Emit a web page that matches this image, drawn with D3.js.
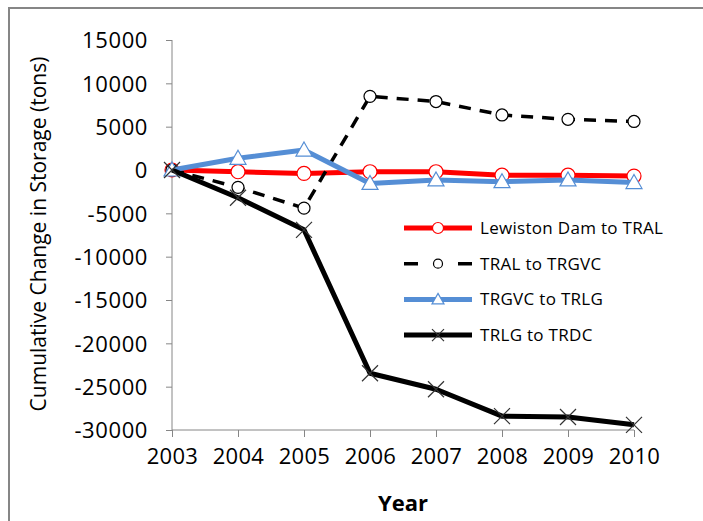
<!DOCTYPE html>
<html>
<head>
<meta charset="utf-8">
<script src="https://cdn.jsdelivr.net/npm/d3@7"></script>
<style>
  body { margin: 0; background: #fff; }
  svg text { font-family: "Open Sans", sans-serif; fill: #000; }
</style>
</head>
<body>
<script>
const WIDTH = 703;
const HEIGHT = 521;

var years = [2003, 2004, 2005, 2006, 2007, 2008, 2009, 2010];
var yTicks = [15000, 10000, 5000, 0, -5000, -10000, -15000, -20000, -25000, -30000];
var seriesNames = ['Lewiston Dam to TRAL', 'TRAL to TRGVC', 'TRGVC to TRLG', 'TRLG to TRDC'];
var lewistonToTral = [0, -200, -400, -200, -200, -600, -600, -700];
var tralToTrgvc = [0, -2000, -4400, 8500, 7900, 6350, 5850, 5600];
var trgvcToTrlg = [0, 1350, 2300, -1550, -1150, -1350, -1150, -1450];
var trlgToTrdc = [0, -3200, -6900, -23450, -25300, -28400, -28500, -29400];

var styles = [
	{color: '#ff0000', width: 5, dash: null, marker: 'circle', r: 7, lr: 5.5, mstroke: '#ff0000'},
	{color: '#000000', width: 3.5, dash: '12,9', marker: 'circle', r: 6, lr: 4.5, mstroke: '#000000'},
	{color: '#558ed5', width: 5, dash: null, marker: 'triangle', r: 8, lr: 6, mstroke: '#558ed5'},
	{color: '#000000', width: 5, dash: null, marker: 'x', r: 8, lr: 6, mstroke: '#333333'}
];

var drawMarker = function(g, st, x, y, s){
	if (st.marker == 'circle') {
		g.append('circle').attr('cx', x).attr('cy', y).attr('r', s)
			.attr('fill', '#fff').attr('stroke', st.mstroke).attr('stroke-width', 1.2);
	} else if (st.marker == 'triangle') {
		g.append('path')
			.attr('d', 'M' + x + ',' + (y - s) + 'L' + (x + s) + ',' + (y + s * 0.75) + 'L' + (x - s) + ',' + (y + s * 0.75) + 'Z')
			.attr('fill', '#fff').attr('stroke', st.mstroke).attr('stroke-width', 1.2);
	} else {
		g.append('path')
			.attr('d', 'M' + (x - s) + ',' + (y - s) + 'L' + (x + s) + ',' + (y + s) + 'M' + (x + s) + ',' + (y - s) + 'L' + (x - s) + ',' + (y + s))
			.attr('fill', 'none').attr('stroke', st.mstroke).attr('stroke-width', 1.2);
	}
};

var createChart = function(){
	var svg = d3.select('body').append('svg')
		.attr('width', WIDTH).attr('height', HEIGHT);

	// outer frame (right and bottom fall outside the picture)
	svg.append('rect').attr('x', 9).attr('y', 8).attr('width', 720).attr('height', 540)
		.attr('fill', 'none').attr('stroke', '#868686').attr('stroke-width', 2);

	var x = d3.scalePoint().domain(years).range([172, 634]);
	var y = d3.scaleLinear().domain([-30000, 15000]).range([430, 40]);

	var yAxis = d3.axisLeft(y).tickValues(yTicks).tickSize(6).tickPadding(18);
	var gy = svg.append('g').attr('transform', 'translate(172,0)').call(yAxis);
	gy.select('.domain').attr('stroke', '#868686').attr('d', 'M0,40V430');
	gy.selectAll('.tick line').attr('stroke', '#868686');
	gy.selectAll('.tick text').style('font-size', '22px').style('letter-spacing', '0.6px')
		.attr('dy', '0.35em').text(function(d){ return d; });

	var xAxis = d3.axisBottom(x).tickSize(7).tickPadding(11);
	var gx = svg.append('g').attr('transform', 'translate(0,430)').call(xAxis);
	gx.select('.domain').attr('stroke', '#868686').attr('d', 'M172,0H634');
	gx.selectAll('.tick line').attr('stroke', '#868686');
	gx.selectAll('.tick text').style('font-size', '22px').style('letter-spacing', '0.3px');

	svg.append('text').attr('x', 403).attr('y', 511).attr('text-anchor', 'middle')
		.style('font-size', '22px').style('font-weight', 'bold').text('Year');
	svg.append('text').attr('transform', 'translate(46,234) rotate(-90)').attr('text-anchor', 'middle')
		.style('font-size', '21px').text('Cumulative Change in Storage (tons)');

	var data = [lewistonToTral, tralToTrgvc, trgvcToTrlg, trlgToTrdc];
	var line = d3.line()
		.x(function(d, i){ return x(years[i]); })
		.y(function(d){ return y(d); });

	data.forEach(function(values, k){
		var st = styles[k];
		var g = svg.append('g');
		g.append('path').attr('d', line(values))
			.attr('fill', 'none').attr('stroke', st.color).attr('stroke-width', st.width)
			.attr('stroke-dasharray', st.dash).attr('stroke-linejoin', 'round');
		values.forEach(function(v, i){ drawMarker(g, st, x(years[i]), y(v), st.r); });
	});

	// legend
	var legend = svg.append('g');
	seriesNames.forEach(function(name, k){
		var st = styles[k];
		var ly = 228 + k * 35.7;
		legend.append('line').attr('x1', 404).attr('x2', 472).attr('y1', ly).attr('y2', ly)
			.attr('stroke', st.color).attr('stroke-width', st.width)
			.attr('stroke-dasharray', k == 1 ? '14,40' : null);
		drawMarker(legend, st, 438, ly, st.lr);
		legend.append('text').attr('x', 480).attr('y', ly).attr('dy', '0.35em')
			.style('font-size', '17px').style('letter-spacing', '0.3px').text(name);
	});
};

window.onload = function(){
	createChart();
};
</script>
</body>
</html>
